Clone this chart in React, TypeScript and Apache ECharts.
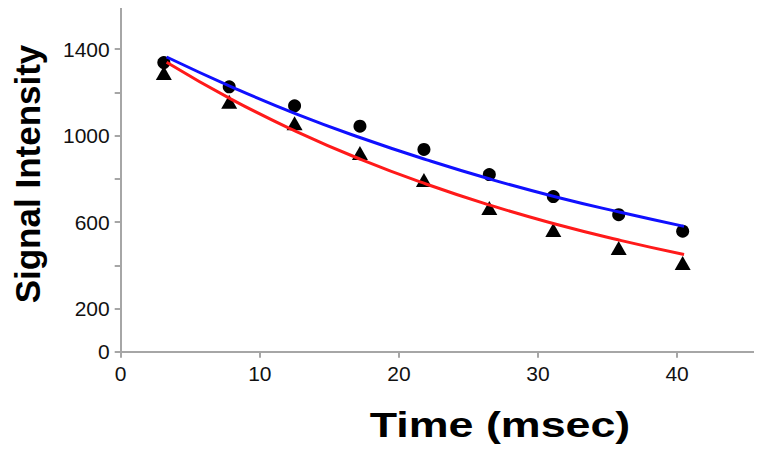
import React, { useEffect, useRef } from "react";
import * as echarts from "echarts";

const echoTimes = [3.1, 7.8, 12.5, 17.2, 21.8, 26.5, 31.1, 35.8, 40.4];
const circleValues = [1338, 1226, 1138, 1044, 936, 820, 718, 634, 558];
const triangleValues = [1290, 1157, 1057, 920, 795, 665, 563, 480, 410];
const fitTimes = [3.3, 8.0, 12.6, 17.3, 22.0, 26.6, 31.3, 36.0, 40.5];
const blueFit = [1364, 1225, 1101, 989, 888, 798, 716, 644, 580];
const redFit = [1340, 1167, 1020, 889, 775, 677, 590, 514, 450];
const yTicks = [0, 200, 400, 600, 800, 1000, 1200, 1400, 1600];
const yLabels = [0, 200, 600, 1000, 1400];
const xTicks = [0, 10, 20, 30, 40];
const xTitle = "Time (msec)";
const yTitle = "Signal Intensity";

const pairs = (xs: number[], ys: number[]) => xs.map((x, i) => [x, ys[i]]);

export default function App() {
  const ref = useRef<HTMLDivElement>(null);
  useEffect(() => {
    if (!ref.current) return;
    const chart = echarts.init(ref.current, null, { renderer: "svg" });
    const axisColor = "#a6a6a6";
    const font = "Liberation Sans, Arial, sans-serif";
    chart.setOption({
      animation: false,
      backgroundColor: "#ffffff",
      grid: { left: 120.7, right: 7, top: 6, bottom: 103.3, containLabel: false },
      xAxis: {
        type: "value",
        min: 0,
        max: 45.6,
        axisLine: { show: true, lineStyle: { color: axisColor, width: 2 } },
        axisTick: { show: true, customValues: xTicks, length: 6, lineStyle: { color: axisColor, width: 2 } },
        axisLabel: {
          customValues: xTicks,
          formatter: (v: number) => String(v),
          color: "#111",
          fontSize: 21,
          fontFamily: font,
          margin: 11,
        },
        splitLine: { show: false },
      },
      yAxis: {
        type: "value",
        min: 0,
        max: 1600,
        axisLine: { show: true, lineStyle: { color: axisColor, width: 2 } },
        axisTick: { show: true, customValues: yTicks, length: 6, lineStyle: { color: axisColor, width: 2 } },
        axisLabel: {
          customValues: yLabels,
          formatter: (v: number) => String(v),
          color: "#111",
          fontSize: 21,
          fontFamily: font,
          margin: 11,
        },
        splitLine: { show: false },
      },
      graphic: [
        {
          type: "text",
          x: 27.5,
          y: 174,
          rotation: Math.PI / 2,
          style: {
            text: yTitle,
            fontSize: 35,
            fontWeight: "bold",
            fontFamily: font,
            fill: "#000",
            align: "center",
            verticalAlign: "middle",
          },
        },
        {
          type: "text",
          x: 500,
          y: 425,
          scaleX: 1.28,
          style: {
            text: xTitle,
            fontSize: 35,
            fontWeight: "bold",
            fontFamily: font,
            fill: "#000",
            align: "center",
            verticalAlign: "middle",
          },
        },
      ],
      series: [
        {
          type: "scatter",
          data: pairs(echoTimes, circleValues),
          symbol: "circle",
          symbolSize: 13,
          itemStyle: { color: "#000", opacity: 1 },
          z: 3,
        },
        {
          type: "scatter",
          data: pairs(echoTimes, triangleValues),
          symbol: "triangle",
          symbolSize: [16, 14],
          itemStyle: { color: "#000", opacity: 1 },
          z: 3,
        },
        {
          type: "line",
          data: pairs(fitTimes, blueFit),
          smooth: true,
          showSymbol: false,
          symbol: "none",
          lineStyle: { color: "#1010ff", width: 3 },
          z: 4,
        },
        {
          type: "line",
          data: pairs(fitTimes, redFit),
          smooth: true,
          showSymbol: false,
          symbol: "none",
          lineStyle: { color: "#ff1a1a", width: 3 },
          z: 4,
        },
      ],
    });
    return () => chart.dispose();
  }, []);
  return <div ref={ref} style={{ width: 762, height: 455, margin: -8 }} />;
}
